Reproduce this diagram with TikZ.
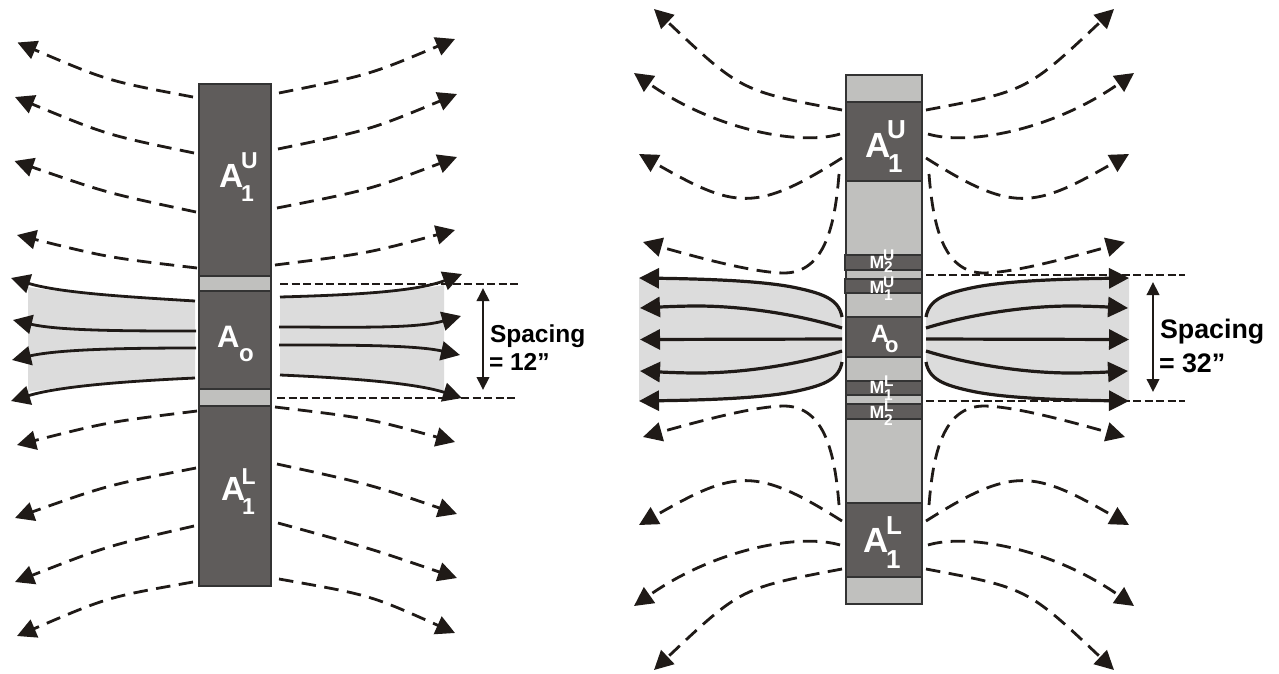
\documentclass[tikz,border=0pt]{standalone}
\usepackage{fontspec}
\setmainfont{Liberation Sans}
\usetikzlibrary{arrows.meta}
\definecolor{ink}{HTML}{1F1A17}
\definecolor{bardark}{HTML}{5F5C5B}
\definecolor{barlight}{HTML}{C0C0BE}
\definecolor{fieldgray}{HTML}{DCDCDC}
\newcommand{\lab}[5]{\node[lbl] (#1) at (#2,#3) {\fontsize{#4}{#4}\selectfont #5};}
\tikzset{
  lbl/.style={anchor=base west,inner sep=0pt,outer sep=0pt,text=white,font=\bfseries},
  note/.style={anchor=base west,inner sep=0pt,outer sep=0pt,text=black,font=\bfseries},
  dashflow/.style={draw=ink,line width=2.8pt,dash pattern=on 14.5pt off 8.5pt,
    -{Triangle[length=19pt,width=19pt,fill=ink]}},
  solidflow/.style={draw=ink,line width=2.8pt,-{Triangle[length=19pt,width=19pt,fill=ink]}},
  solidbig/.style={draw=ink,line width=3.2pt,-{Triangle[length=20pt,width=20pt,fill=ink]}},
  limit/.style={draw=ink,line width=1.8pt,dash pattern=on 8pt off 3.5pt},
  span/.style={draw=ink,line width=2pt,{Triangle[length=13pt,width=12.5pt,fill=ink]}-{Triangle[length=13pt,width=12.5pt,fill=ink]}},
  darkseg/.style={fill=bardark,draw=black!80,line width=1.1pt},
  lightseg/.style={fill=barlight,draw=black!80,line width=1.1pt},
  flipx/.style={shift={(1768,0)},xscale=-1},
  flipy/.style={shift={(0,679)},yscale=-1},
}
\newcommand{\rquad}{%
  \fill[fieldgray] (842,317) .. controls (839,300) and (825,294) .. (797,288)
     .. controls (765,281) and (710,279) .. (639,278) -- (639,340) -- (842,340) -- cycle;
  \draw[dashflow] (842,110) .. controls (741,91) .. (654,9);
  \draw[dashflow] (840,134) .. controls (800,146) and (715,130) .. (634,73);
  \draw[dashflow] (842,158) .. controls (755,213) and (735,209) .. (639,154);
  \draw[dashflow] (839,174) .. controls (835,225) and (825,272) .. (785,273)
     .. controls (755,273) and (700,258) .. (643,242);
  \draw[solidbig] (842,317) .. controls (839,300) and (825,294) .. (797,288)
     .. controls (765,281) and (710,279) .. (639,278);
  \draw[solidbig] (842,328) .. controls (800,315) and (745,306) .. (697,306)
     .. controls (680,306) and (660,307) .. (640,308);
}
\begin{document}
\begin{tikzpicture}[x=1pt,y=-1pt]
\useasboundingbox (0,0) rectangle (1279,673);
\fill[white] (0,0) rectangle (1279,673);
% ---- left panel: fields
\fill[fieldgray] (195,301) .. controls (130,297) and (65,293) .. (28,287) -- (28,392)
   .. controls (65,386) and (130,381) .. (195,378) -- cycle;
\fill[fieldgray] (280,297) .. controls (350,295) and (410,291) .. (444,285) -- (444,393)
   .. controls (410,383) and (350,378) .. (280,375) -- cycle;
% ---- left panel: bar
\draw[darkseg] (199,84) rectangle (271,586);
\draw[lightseg] (199,276) rectangle (271,291);
\draw[lightseg] (199,389) rectangle (271,406);
% ---- left panel: dashed
\draw[dashflow] (193,97) .. controls (108,81) .. (17.5,42.5);
\draw[dashflow] (194,153) .. controls (107,135) .. (15,97);
\draw[dashflow] (196,212) .. controls (107,193) .. (14.5,161);
\draw[dashflow] (197,268) .. controls (108,257.5) .. (17,235);
\draw[dashflow] (279,93) .. controls (369,75) .. (455,39);
\draw[dashflow] (278,149) .. controls (370,130) .. (457,94);
\draw[dashflow] (277,208) .. controls (369,190) .. (457,157);
\draw[dashflow] (275,265) .. controls (367,253.5) .. (455,230);
\draw[dashflow] (197,411) .. controls (108,422) .. (17,445);
\draw[dashflow] (196,468) .. controls (108,485) .. (15,518);
\draw[dashflow] (194,526) .. controls (107,546) .. (15,582);
\draw[dashflow] (193,582) .. controls (108,597) .. (17,636);
\draw[dashflow] (275,407) .. controls (367,418) .. (455,442);
\draw[dashflow] (277,464) .. controls (369,484) .. (457,514);
\draw[dashflow] (278,523) .. controls (369,548) .. (457,578);
\draw[dashflow] (279,579) .. controls (370,595) .. (455,633);
% ---- left panel: solid
\draw[solidflow] (195,301) .. controls (130,297) and (60,293) .. (11,278);
\draw[solidflow] (196,331) .. controls (130,331) and (60,331) .. (13,320);
\draw[solidflow] (196,348) .. controls (130,348) and (60,349) .. (12,360);
\draw[solidflow] (195,378) .. controls (130,381) and (60,386) .. (11,401);
\draw[solidflow] (280,297) .. controls (350,295) and (415,292) .. (462,274);
\draw[solidflow] (279,327) .. controls (350,327) and (415,329) .. (461,316);
\draw[solidflow] (279,345) .. controls (350,345) and (415,345) .. (460,355);
\draw[solidflow] (280,375) .. controls (350,378) and (415,383) .. (462,398);
\coordinate (l1a) at (280,284); \coordinate (l1b) at (518,284);
\coordinate (l2a) at (277,398); \coordinate (l2b) at (516,398);
\draw[limit] (l1a) -- (l1b);
\draw[limit] (l2a) -- (l2b);
\coordinate (s1a) at (483,288); \coordinate (s1b) at (483,390);
\draw[span] (s1a) -- (s1b);
\node[note] (sp1) at (490,342) {\fontsize{24.5}{24.5}\selectfont Spacing};
\node[note] (eq1) at (489,370) {\fontsize{24.5}{24.5}\selectfont = 12”};
\lab{la}{219}{187}{33.5}{A}\lab{lu}{241}{168}{23}{U}\lab{lo}{241}{201}{23}{1}
\lab{lb}{221}{500}{33.5}{A}\lab{ll}{241.5}{484}{23}{L}\lab{lp}{242}{514}{23}{1}
\lab{lc}{217}{347}{31}{A}\lab{ld}{239}{361}{24}{o}
% ---- right panel: bar
\draw[lightseg] (846,75) rectangle (922,604);
\draw[darkseg] (846,102) rectangle (922,181);
\draw[darkseg] (845,255) rectangle (922,270);
\draw[darkseg] (845,279) rectangle (922,293);
\draw[darkseg] (846,317) rectangle (922,357);
\draw[darkseg] (846,381) rectangle (922,395);
\draw[darkseg] (846,404) rectangle (922,419);
\draw[darkseg] (846,503) rectangle (922,577);
% ---- right panel: four mirrored quadrants
\begin{scope}\rquad\end{scope}
\begin{scope}[flipx]\rquad\end{scope}
\begin{scope}[flipy]\rquad\end{scope}
\begin{scope}[flipx,flipy]\rquad\end{scope}
\draw[solidbig] (842,339) -- (640,339.5);
\draw[solidbig] (926,339) -- (1129,339.5);
\coordinate (r1a) at (926,275); \coordinate (r1b) at (1185,275);
\coordinate (r2a) at (926,401); \coordinate (r2b) at (1185,401);
\draw[limit,line width=2.2pt] (r1a) -- (r1b);
\draw[limit,line width=2.2pt] (r2a) -- (r2b);
\coordinate (s2a) at (1153,282); \coordinate (s2b) at (1153,392);
\draw[span] (s2a) -- (s2b);
\node[note] (sp2) at (1160,338) {\fontsize{26.8}{26.8}\selectfont Spacing};
\node[note] (eq2) at (1159,372) {\fontsize{26.8}{26.8}\selectfont = 32”};
\lab{ra}{865}{157}{35}{A}\lab{ru}{887}{138}{26}{U}\lab{ro}{888}{172}{26}{1}
\lab{rb}{863}{552}{35}{A}\lab{rl}{886}{534}{26}{L}\lab{rp}{886}{568}{26}{1}
\lab{rc}{871}{342}{25}{A}\lab{rd}{885}{352}{22}{o}
\lab{ma}{869.5}{268}{17.7}{M}\lab{mb}{883}{260}{15.5}{U}\lab{mc}{884}{272}{15.5}{2}
\lab{md}{869.5}{293}{17.7}{M}\lab{me}{883}{287}{15.5}{U}\lab{mf}{884}{300}{15.5}{1}
\lab{mg}{869.5}{393}{17.7}{M}\lab{mh}{884}{386}{15.5}{L}\lab{mi}{884}{400}{15.5}{1}
\lab{mj}{869.5}{418}{17.7}{M}\lab{mk}{884}{411}{15.5}{L}\lab{ml}{884}{425}{15.5}{2}
\end{tikzpicture}
\end{document}
